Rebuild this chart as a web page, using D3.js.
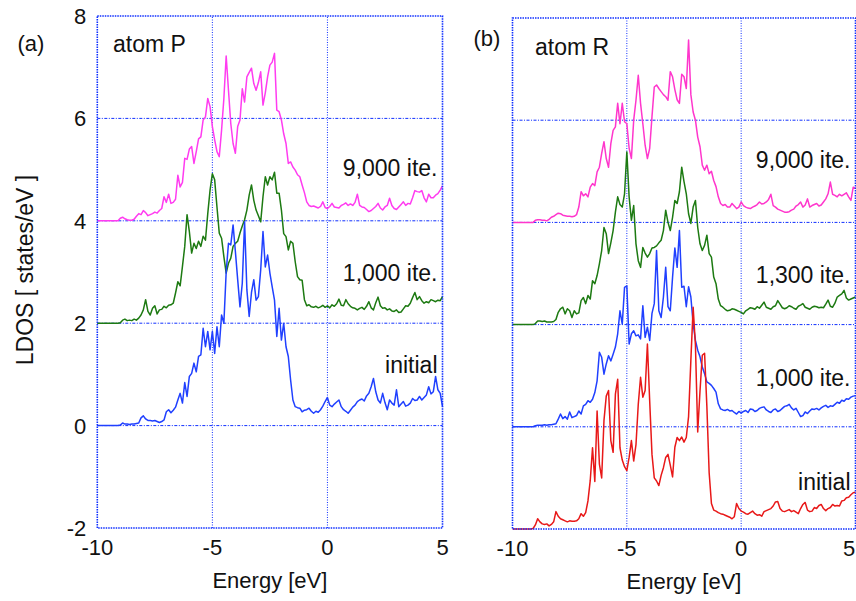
<!DOCTYPE html>
<html>
<head>
<meta charset="utf-8">
<script src="https://cdn.jsdelivr.net/npm/d3@7"></script>
<style>
body{margin:0;background:#fff;}
text{font-family:"Liberation Sans",Arial,sans-serif;fill:#111;}
</style>
</head>
<body>
<svg id="chart" width="856" height="601"></svg>
<script>
// energy grid (eV), step 0.1
const energy=d3.range(151).map(i=>+(-10+i*0.1).toFixed(1));
const xTicks=[-10,-5,0,5];
const yTicks=[-2,0,2,4,6,8];

// (a) atom P
const p9000=[
4.0,4.0,4.0,4.0,4.0,4.0,4.0,4.0,4.0,4.0,
4.05,4.07,4.04,4.02,4.01,4.01,4.03,4.09,4.14,4.12,
4.2,4.16,4.1,4.12,4.14,4.17,4.15,4.2,4.24,4.47,
4.36,4.52,4.34,4.36,4.42,4.89,4.66,4.75,5.22,5.2,
5.4,5.45,5.12,5.35,5.6,5.64,5.97,6.03,6.39,6.23,
5.84,5.58,5.35,5.25,5.77,6.39,7.22,6.55,5.9,5.51,
5.32,5.84,5.97,6.58,6.32,6.81,6.9,6.98,6.68,6.55,
6.7,6.91,6.26,6.5,6.81,7.04,7.1,7.27,6.16,6.13,
5.97,5.7,5.51,5.12,5.15,5.05,4.99,4.9,4.86,4.7,
4.55,4.37,4.3,4.28,4.29,4.27,4.25,4.28,4.37,4.26,
4.24,4.28,4.34,4.27,4.26,4.25,4.3,4.32,4.35,4.3,
4.33,4.3,4.36,4.52,4.3,4.27,4.26,4.22,4.18,4.2,
4.24,4.28,4.34,4.25,4.21,4.27,4.3,4.44,4.3,4.24,
4.22,4.27,4.32,4.37,4.3,4.34,4.33,4.45,4.59,4.57,
4.56,4.59,4.45,4.37,4.52,4.45,4.45,4.5,4.53,4.6,4.68];
const p1000=[
2.0,2.0,2.0,2.0,2.0,2.0,2.0,2.0,2.0,2.0,
2.01,2.06,2.08,2.05,2.06,2.05,2.08,2.06,2.1,2.16,
2.26,2.46,2.23,2.16,2.29,2.34,2.18,2.26,2.27,2.33,
2.3,2.35,2.36,2.39,2.59,2.81,2.73,3.11,3.5,4.12,
3.79,3.37,3.56,3.46,3.6,3.5,3.7,3.62,4.14,4.6,
4.92,4.8,4.27,3.76,3.66,3.3,2.98,3.17,3.27,3.5,
3.56,3.6,3.76,3.9,4.02,4.21,4.5,4.7,4.4,4.21,
4.1,3.98,4.47,4.86,4.7,4.86,4.8,4.95,4.54,4.54,
4.21,3.75,3.69,3.43,3.6,3.56,3.2,2.91,2.85,2.84,
2.46,2.34,2.36,2.32,2.31,2.33,2.3,2.32,2.35,2.31,
2.34,2.3,2.36,2.33,2.38,2.47,2.35,2.34,2.46,2.38,
2.33,2.3,2.29,2.26,2.29,2.31,2.27,2.33,2.42,2.3,
2.26,2.4,2.51,2.34,2.29,2.3,2.26,2.28,2.24,2.23,
2.26,2.21,2.22,2.28,2.34,2.33,2.39,2.5,2.6,2.46,
2.52,2.44,2.39,2.42,2.4,2.46,2.44,2.42,2.45,2.44,2.52];
const pInitial=[
0,0,0,0,0,0,0,0,0,0,
0.01,0.05,0.03,0.03,0.02,0.03,0.03,0.04,0.05,0.15,
0.19,0.13,0.1,0.1,0.09,0.1,0.08,0.06,0.08,0.11,
0.27,0.31,0.25,0.3,0.36,0.5,0.63,0.44,0.84,0.57,
0.96,1.02,1.22,1.05,1.35,1.38,1.9,1.54,1.84,1.48,
1.84,1.41,1.93,1.54,2.16,2.0,3.0,3.56,3.53,3.92,
3.4,2.85,2.32,2.78,3.98,2.65,2.13,2.6,2.85,2.45,
2.52,3.04,3.79,3.1,3.33,2.98,2.71,2.45,1.74,2.29,
1.67,2.0,1.54,1.35,0.89,0.5,0.37,0.35,0.34,0.27,
0.3,0.31,0.34,0.28,0.24,0.28,0.26,0.31,0.38,0.47,
0.55,0.4,0.37,0.42,0.46,0.5,0.37,0.31,0.28,0.24,
0.3,0.36,0.4,0.47,0.5,0.52,0.48,0.58,0.63,0.76,
0.92,0.66,0.5,0.44,0.63,0.45,0.31,0.5,0.44,0.4,
0.7,0.37,0.42,0.47,0.38,0.4,0.44,0.53,0.49,0.5,
0.57,0.5,0.55,0.6,0.76,0.62,0.66,0.96,0.7,0.63,0.37];

// (b) atom R
const r9000=[
4.0,4.0,4.0,4.0,4.0,4.0,4.0,4.0,4.0,4.0,
4.04,4.05,4.05,4.04,4.04,4.03,4.06,4.1,4.12,4.15,
4.18,4.17,4.14,4.13,4.12,4.12,4.11,4.12,4.15,4.3,
4.6,4.52,4.56,4.5,4.69,4.76,4.72,4.99,5.08,5.35,
5.58,5.25,5.08,5.54,5.8,5.87,6.33,5.93,6.33,5.97,
5.93,5.45,5.25,6.0,6.39,6.88,6.33,5.93,5.51,5.25,
5.45,6.07,6.65,6.69,6.62,6.56,6.5,6.46,6.39,6.95,
6.85,6.6,6.4,6.33,6.9,6.85,6.62,7.57,6.5,6.16,
6.0,5.67,5.48,5.12,5.02,5.12,4.95,5.0,4.82,4.7,
4.5,4.37,4.33,4.35,4.3,4.3,4.37,4.32,4.27,4.3,
4.4,4.33,4.3,4.28,4.27,4.3,4.32,4.35,4.4,4.36,
4.37,4.4,4.45,4.55,4.33,4.3,4.26,4.24,4.22,4.2,
4.2,4.21,4.24,4.26,4.32,4.35,4.4,4.3,4.34,4.46,
4.3,4.33,4.35,4.37,4.32,4.34,4.4,4.46,4.56,4.79,
4.55,4.53,4.5,4.55,4.52,4.55,4.58,4.5,4.43,4.69,4.66];
const r1300=[
2.0,2.0,2.0,2.0,2.0,2.0,2.0,2.0,2.0,2.0,
2.02,2.07,2.07,2.06,2.07,2.05,2.05,2.05,2.06,2.1,
2.24,2.31,2.34,2.21,2.31,2.27,2.14,2.27,2.21,2.23,
2.47,2.53,2.41,2.57,2.5,2.86,2.8,2.96,3.19,3.45,
3.9,3.78,3.39,3.6,3.84,4.2,4.5,4.35,4.3,4.56,
5.38,4.5,4.04,4.33,3.58,3.25,3.12,3.51,3.4,3.32,
3.39,3.5,3.51,3.54,3.6,3.65,3.84,4.24,4.0,3.84,
4.1,4.43,4.37,4.6,5.08,4.8,4.56,4.17,3.98,4.3,
4.43,3.9,3.58,3.45,3.55,3.75,3.39,3.32,2.93,2.8,
2.5,2.37,2.34,2.3,2.27,2.28,2.31,2.3,2.28,2.26,
2.24,2.21,2.27,2.3,2.33,2.32,2.3,2.35,2.32,2.38,
2.44,2.34,2.32,2.3,2.35,2.37,2.47,2.4,2.33,2.31,
2.33,2.37,2.35,2.32,2.3,2.36,2.38,2.41,2.34,2.32,
2.3,2.34,2.36,2.35,2.33,2.34,2.33,2.4,2.48,2.36,
2.34,2.42,2.54,2.57,2.6,2.67,2.52,2.48,2.5,2.52,2.54];
const r1000=[
0,0,0,0,0,0,0,0,0,0,
0.02,0.03,0.03,0.03,0.04,0.03,0.04,0.04,0.05,0.06,
0.15,0.25,0.16,0.2,0.15,0.29,0.18,0.2,0.22,0.31,
0.25,0.41,0.44,0.51,0.48,0.54,0.67,0.9,1.46,1.36,
1.03,1.23,1.39,1.29,1.42,1.56,1.82,2.27,2.01,2.73,
2.76,1.62,1.82,1.88,1.78,1.8,1.72,2.37,1.75,1.95,
1.69,2.22,2.41,3.45,2.27,2.14,2.54,3.12,2.35,2.27,
2.93,3.5,3.12,3.84,2.73,2.75,2.35,2.74,2.54,2.02,
1.69,1.5,1.37,1.17,1.04,0.88,0.85,0.81,0.75,0.68,
0.45,0.35,0.33,0.32,0.34,0.31,0.32,0.28,0.25,0.3,
0.27,0.3,0.32,0.28,0.35,0.34,0.3,0.32,0.36,0.38,
0.39,0.33,0.3,0.28,0.33,0.35,0.3,0.32,0.36,0.4,
0.41,0.44,0.37,0.33,0.36,0.28,0.2,0.22,0.29,0.26,
0.31,0.35,0.34,0.36,0.33,0.37,0.4,0.42,0.38,0.41,
0.4,0.44,0.48,0.46,0.52,0.5,0.55,0.54,0.58,0.6,0.61];
const rInitial=[
-2.0,-2.0,-2.0,-2.0,-2.0,-2.0,-2.0,-2.0,-2.0,-1.99,
-1.92,-1.8,-1.86,-1.9,-1.91,-1.9,-1.94,-1.91,-1.86,-1.66,
-1.75,-1.8,-1.82,-1.84,-1.86,-1.84,-1.85,-1.85,-1.84,-1.8,
-1.7,-1.75,-1.68,-1.45,-1.05,-0.41,-1.07,0.31,-0.73,-1.0,
0.12,0.6,0.71,-0.27,-0.5,0.64,0.93,-0.41,-0.65,-0.78,
-0.86,-0.6,-0.27,-0.67,-0.35,0.44,0.97,0.58,0.71,1.62,
0.5,-0.54,-1.0,-1.06,-1.15,-0.95,-0.8,-0.6,-0.54,-0.75,
-0.98,-0.4,-0.21,-0.27,-0.2,-0.3,-0.21,0.2,1.3,2.34,
1.6,-0.1,0.7,1.4,1.44,0.4,-0.9,-1.5,-1.63,-1.65,
-1.68,-1.7,-1.71,-1.73,-1.75,-1.77,-1.8,-1.76,-1.5,-1.6,
-1.65,-1.67,-1.7,-1.71,-1.68,-1.65,-1.7,-1.73,-1.72,-1.75,
-1.66,-1.64,-1.62,-1.6,-1.55,-1.47,-1.46,-1.6,-1.65,-1.66,
-1.64,-1.62,-1.66,-1.64,-1.67,-1.7,-1.6,-1.52,-1.48,-1.63,
-1.66,-1.65,-1.58,-1.6,-1.54,-1.52,-1.6,-1.64,-1.6,-1.58,
-1.52,-1.55,-1.54,-1.55,-1.45,-1.44,-1.39,-1.38,-1.33,-1.29,-1.28];

const panels=[
  {x0:97.3,x1:442.5,y0:528,y1:16,yLabels:true,tag:"(a)",tagX:31,tagY:51,atom:"atom P",atomX:113,atomY:52,
   series:[{v:p9000,c:"#ff3cf0",label:"9,000 ite.",ly:176},
           {v:p1000,c:"#1d7a12",label:"1,000 ite.",ly:281},
           {v:pInitial,c:"#2040ff",label:"initial",ly:373}]},
  {x0:512.5,x1:855.5,y0:529,y1:18,yLabels:false,tag:"(b)",tagX:487,tagY:46,atom:"atom R",atomX:535,atomY:55,
   series:[{v:r9000,c:"#ff36cc",label:"9,000 ite.",ly:168},
           {v:r1300,c:"#1d7a12",label:"1,300 ite.",ly:283},
           {v:r1000,c:"#2040ff",label:"1,000 ite.",ly:386},
           {v:rInitial,c:"#e81818",label:"initial",ly:490}]}
];

const svg=d3.select("#chart");
const gridColor="#1030ff";

panels.forEach(p=>{
  const x=d3.scaleLinear().domain([-10,5]).range([p.x0,p.x1]);
  const y=d3.scaleLinear().domain([-2,8]).range([p.y0,p.y1]);
  const g=svg.append("g");

  // grid
  g.selectAll(".gy").data(yTicks.filter(t=>t>-2&&t<8)).enter().append("line")
    .attr("x1",p.x0).attr("x2",p.x1).attr("y1",d=>y(d)).attr("y2",d=>y(d))
    .attr("stroke",gridColor).attr("stroke-width",1).attr("stroke-dasharray","3,1.5,1,1.5");
  g.selectAll(".gx").data([-5,0]).enter().append("line")
    .attr("x1",d=>x(d)).attr("x2",d=>x(d)).attr("y1",p.y0).attr("y2",p.y1)
    .attr("stroke",gridColor).attr("stroke-width",1).attr("stroke-dasharray","1,1.5");

  // curves
  const line=d3.line().x((d,i)=>x(energy[i])).y(d=>y(d));
  p.series.forEach(s=>{
    g.append("path").datum(s.v).attr("d",line)
      .attr("fill","none").attr("stroke",s.c).attr("stroke-width",1.5)
      .attr("stroke-linejoin","round");
    g.append("text").attr("x",p.x1-5).attr("y",s.ly).attr("text-anchor","end")
      .attr("font-size",23).text(s.label);
  });

  // frame
  g.append("rect").attr("x",p.x0).attr("y",p.y1)
    .attr("width",p.x1-p.x0).attr("height",p.y0-p.y1)
    .attr("fill","none").attr("stroke",gridColor).attr("stroke-width",1.6)
    .attr("stroke-dasharray","1.5,1");

  // tick labels
  g.selectAll(".xt").data(xTicks).enter().append("text")
    .attr("x",d=>Math.min(x(d),849)).attr("y",p.y0+27).attr("text-anchor","middle")
    .attr("font-size",22).text(d=>d);
  if(p.yLabels){
    g.selectAll(".yt").data(yTicks).enter().append("text")
      .attr("x",p.x0-11).attr("y",d=>y(d)+8).attr("text-anchor","end")
      .attr("font-size",22).text(d=>d);
  }
  g.append("text").attr("x",(p.x0+p.x1)/2).attr("y",p.y0+60).attr("text-anchor","middle")
    .attr("font-size",22).text("Energy [eV]");
  g.append("text").attr("x",p.tagX).attr("y",p.tagY).attr("text-anchor","middle")
    .attr("font-size",22).text(p.tag);
  g.append("text").attr("x",p.atomX).attr("y",p.atomY).attr("font-size",23).text(p.atom);
});

svg.append("text").attr("transform","translate(33,270) rotate(-90)")
  .attr("text-anchor","middle").attr("font-size",23).text("LDOS [ states/eV ]");
</script>
</body>
</html>
